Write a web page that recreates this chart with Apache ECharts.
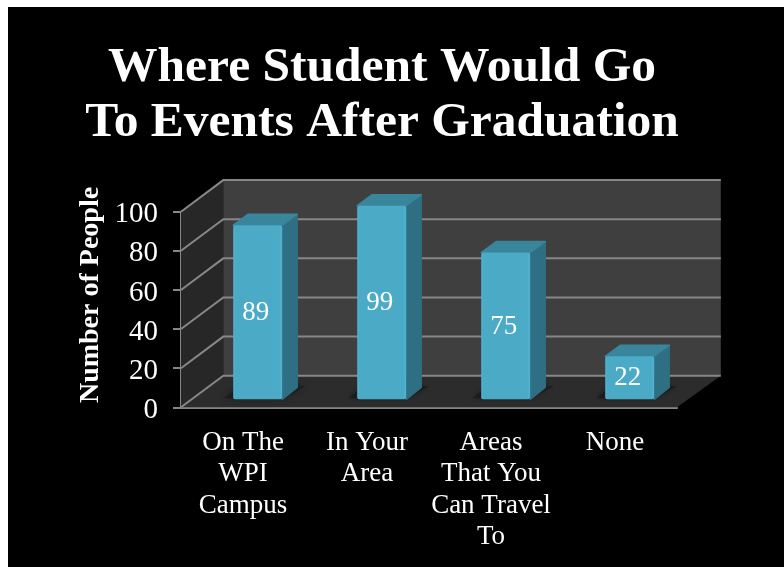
<!DOCTYPE html>
<html><head><meta charset="utf-8">
<style>
html,body{margin:0;padding:0;background:#fff;width:784px;height:567px;overflow:hidden}
#panel{position:absolute;left:8px;top:7px;width:776px;height:560px;background:#000}
#chart{position:absolute;left:0;top:0;width:784px;height:567px}
</style>
<script src="https://cdn.jsdelivr.net/npm/echarts@6/dist/echarts.min.js"></script>
</head><body><div id="panel"></div><div id="chart"></div>
<script>
const categories = ['On The\nWPI\nCampus', 'In Your\nArea', 'Areas\nThat You\nCan Travel\nTo', 'None'];
const values = [89, 99, 75, 22];
const tickValues = [0, 20, 40, 60, 80, 100];
const titleText = 'Where Student Would Go\nTo Events After Graduation';
const yAxisTitle = 'Number of People';

const FONT = '"Liberation Serif", serif';
const DX = 42.3, DY = 31.6;       // depth of the box
const BACK_EXTRA = 1.5;           // back wall runs slightly past the floor's depth
const BAR_DX = 14.7, BAR_DY = 8;  // bar offset from front plane
const BAR_DEPTH_X = 15, BAR_DEPTH_Y = 11;
const GRID_COLOR = '#878787';

function renderFrame(params, api) {
  const v = api.value(0);
  const band = api.size([1, 0])[0];
  const p0 = api.coord([0, v]);
  const p3 = api.coord([categories.length - 1, v]);
  const xl = p0[0] - band / 2, xr = p3[0] + band / 2, y = p0[1];
  const xb = xr + DX + BACK_EXTRA;
  const children = [];
  if (v === tickValues[0]) {
    const yt = api.coord([0, tickValues[tickValues.length - 1]])[1];
    children.push(
      { type: 'polygon', shape: { points: [[xl, y], [xl + DX, y - DY], [xl + DX, yt - DY], [xl, yt]] }, style: { fill: '#272727' } },
      { type: 'rect', shape: { x: xl + DX, y: yt - DY, width: xb - xl - DX, height: y - yt }, style: { fill: '#3f3f3f' } },
      { type: 'polygon', shape: { points: [[xl, y], [xr, y], [xb, y - DY], [xl + DX, y - DY]] }, style: { fill: '#2c2c2c' } }
    );
  }
  children.push({
    type: 'polyline',
    shape: { points: [[xl, y], [xl + DX, y - DY], [xb, y - DY]] },
    style: { fill: 'none', stroke: GRID_COLOR, lineWidth: 2 }
  });
  return { type: 'group', children };
}

function renderBar(params, api) {
  const i = api.value(0), v = api.value(1);
  const band = api.size([1, 0])[0];
  const top = api.coord([i, v]), base = api.coord([i, 0]);
  const w = band * 0.395;
  const x0 = top[0] + BAR_DX - w / 2, x1 = x0 + w;
  const yt = top[1] - BAR_DY, yb = base[1] - BAR_DY;
  const bx = BAR_DEPTH_X, by = BAR_DEPTH_Y;
  return {
    type: 'group',
    children: [
      { type: 'polygon', shape: { points: [[x0 - 9, yb - 1], [x1, yb - 1], [x1 + bx + 8, yb - by - 2], [x0 + 6, yb - by - 2]] },
        style: { fill: '#1c1c1c', shadowBlur: 6, shadowColor: '#1c1c1c' } },
      { type: 'polygon', shape: { points: [[x1, yt], [x1 + bx, yt - by], [x1 + bx, yb - by - 1], [x1, yb]] },
        style: { fill: '#2f6f83', stroke: '#2f6f83', lineWidth: 1.5, lineJoin: 'round' } },
      { type: 'polygon', shape: { points: [[x0, yt], [x0 + bx, yt - by], [x1 + bx, yt - by], [x1, yt]] },
        style: { fill: '#38859c', stroke: '#38859c', lineWidth: 1.5, lineJoin: 'round' } },
      { type: 'rect', shape: { x: x0, y: yt, width: w, height: yb - yt, r: 2 },
        style: { fill: new echarts.graphic.LinearGradient(0, 0, 1, 0, [
          { offset: 0, color: '#4fb3cf' }, { offset: 0.05, color: '#4baac6' },
          { offset: 0.94, color: '#4baac6' }, { offset: 1, color: '#4fb5d2' }]) } },
      { type: 'text', style: { text: String(v), x: (x0 + x1) / 2 - 2, y: (yt + yb) / 2 + 0.5,
          fill: '#fff', font: '27px ' + FONT, align: 'center', verticalAlign: 'middle' } }
    ]
  };
}

const chart = echarts.init(document.getElementById('chart'), null, { renderer: 'canvas' });
chart.setOption({
  animation: false,
  backgroundColor: 'transparent',
  title: {
    text: titleText, left: 377, top: 36, textAlign: 'center',
    textStyle: { color: '#fff', fontFamily: FONT, fontWeight: 'bold', fontSize: 49.5, lineHeight: 55 }
  },
  graphic: [{
    type: 'text', x: 91, y: 295, rotation: Math.PI / 2,
    style: { text: yAxisTitle, fill: '#fff', font: 'bold 28px ' + FONT, align: 'center', verticalAlign: 'middle' }
  }],
  grid: { left: 181, right: 107, top: 211.7, bottom: 159.7, containLabel: false },
  xAxis: {
    type: 'category', data: categories,
    axisLine: { lineStyle: { color: GRID_COLOR, width: 2 } },
    axisTick: { length: 8, lineStyle: { color: GRID_COLOR, width: 2 } },
    axisLabel: { color: '#fff', fontFamily: FONT, fontSize: 27, lineHeight: 31.3, margin: 20, interval: 0 }
  },
  yAxis: {
    type: 'value', min: 0, max: 100, interval: 20,
    splitLine: { show: false },
    axisLine: { show: true, lineStyle: { color: GRID_COLOR, width: 2 } },
    axisTick: { show: true, length: 8, lineStyle: { color: GRID_COLOR, width: 2 } },
    axisLabel: { color: '#fff', fontFamily: FONT, fontSize: 29, margin: 23, verticalAlign: 'top', lineHeight: 6 }
  },
  series: [
    { type: 'custom', name: 'frame', clip: false, silent: true, z: 1,
      data: tickValues.map(t => [t]), encode: { y: 0 }, renderItem: renderFrame },
    { type: 'custom', name: 'People', clip: false, z: 2,
      data: values.map((v, i) => [i, v]), encode: { x: 0, y: 1 }, renderItem: renderBar }
  ]
});
</script></body></html>
